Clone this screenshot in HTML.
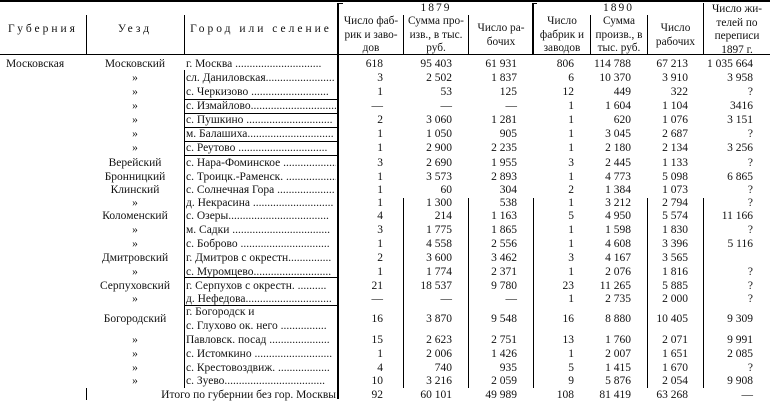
<!DOCTYPE html>
<html><head><meta charset="utf-8"><style>
body{margin:0;width:770px;height:405px;overflow:hidden;background:#fff;font-family:"Liberation Serif",serif;font-size:11.5px;color:#111;position:relative}
.r{position:absolute;left:0;width:770px;height:14px;line-height:14px;white-space:nowrap}
.r span{position:absolute;top:0}
.g{left:6px}
.u{left:86px;width:98px;text-align:center}
.c{left:186px;width:150px;overflow:hidden}
.a{right:387px;text-align:right}
.b{right:318px}
.d{right:253px}
.e{right:196px}
.f{right:139px}
.h{right:82px}
.k{right:17px}
.ln{position:absolute;background:#000}
.hd{position:absolute;text-align:center;font-size:11.3px;line-height:13.5px;white-space:nowrap}
.sp{position:absolute;top:23px;letter-spacing:3px;font-size:11.5px;text-align:center;white-space:nowrap}
</style></head><body>
<div class="ln" style="left:0;top:0;width:770px;height:2px"></div>
<div class="ln" style="left:0;top:54px;width:770px;height:1px"></div>
<div class="ln" style="left:86px;top:15px;width:1px;height:40px"></div>
<div class="ln" style="left:184px;top:15px;width:1px;height:40px"></div>
<div class="ln" style="left:337px;top:3px;width:2px;height:396px"></div>
<div class="ln" style="left:338px;top:3px;width:5px;height:1px"></div>
<div class="ln" style="left:532px;top:3px;width:2px;height:52px"></div>
<div class="ln" style="left:532px;top:3px;width:5px;height:1px"></div>
<div class="ln" style="left:403px;top:15px;width:1px;height:40px"></div>
<div class="ln" style="left:468px;top:15px;width:1px;height:40px"></div>
<div class="ln" style="left:590px;top:15px;width:1px;height:40px"></div>
<div class="ln" style="left:647px;top:15px;width:1px;height:40px"></div>
<div class="ln" style="left:703px;top:3px;width:1px;height:52px"></div>
<div class="ln" style="left:184px;top:70px;width:1px;height:318px"></div>
<div class="ln" style="left:403px;top:198px;width:1px;height:190px"></div>
<div class="ln" style="left:468px;top:198px;width:1px;height:190px"></div>
<div class="ln" style="left:533px;top:198px;width:1px;height:190px"></div>
<div class="ln" style="left:647px;top:198px;width:1px;height:190px"></div>
<div class="ln" style="left:703px;top:198px;width:1px;height:190px"></div>
<div class="ln" style="left:86px;top:388px;width:1px;height:12px"></div>
<div class="ln" style="left:184px;top:99px;width:154px;height:1px"></div>
<div class="ln" style="left:184px;top:113px;width:154px;height:1px"></div>
<div class="ln" style="left:184px;top:127px;width:154px;height:1px"></div>
<div class="ln" style="left:184px;top:141px;width:154px;height:1px"></div>
<div class="ln" style="left:184px;top:155px;width:154px;height:1px"></div>
<div class="ln" style="left:184px;top:277px;width:154px;height:1px"></div>
<div class="ln" style="left:184px;top:305px;width:154px;height:1px"></div>

<div class="sp" style="left:0;width:86px">Губерния</div>
<div class="sp" style="left:86px;width:98px">Уезд</div>
<div class="sp" style="left:184px;width:154px">Город или селение</div>
<div class="hd" style="left:339px;width:194px;top:2px;letter-spacing:2px;font-size:11.5px">1879</div>
<div class="hd" style="left:534px;width:169px;top:2px;letter-spacing:2px;font-size:11.5px">1890</div>
<div class="hd" style="left:339px;width:64px;top:15px">Число фаб-<br>рик и заво-<br>дов</div>
<div class="hd" style="left:404px;width:64px;top:15px">Сумма про-<br>изв., в тыс.<br>руб.</div>
<div class="hd" style="left:469px;width:64px;top:22px">Число ра-<br>бочих</div>
<div class="hd" style="left:534px;width:56px;top:15px">Число<br>фабрик и<br>заводов</div>
<div class="hd" style="left:591px;width:56px;top:15px">Сумма<br>произв., в<br>тыс. руб.</div>
<div class="hd" style="left:648px;width:55px;top:22px">Число<br>рабочих</div>
<div class="hd" style="left:704px;width:66px;top:3px">Число жи-<br>телей по<br>переписи<br>1897 г.</div>

<div class="r" style="top:57px"><span class="g">Московская</span><span class="u">Московский</span><span class="c">г. Москва ..............................</span><span class="a">618</span><span class="b">95 403</span><span class="d">61 931</span><span class="e">806</span><span class="f">114 788</span><span class="h">67 213</span><span class="k">1 035 664</span></div>
<div class="r" style="top:71px"><span class="u">»</span><span class="c">сл. Даниловская........................</span><span class="a">3</span><span class="b">2 502</span><span class="d">1 837</span><span class="e">6</span><span class="f">10 370</span><span class="h">3 910</span><span class="k">3 958</span></div>
<div class="r" style="top:85px"><span class="u">»</span><span class="c">с. Черкизово ...........................</span><span class="a">1</span><span class="b">53</span><span class="d">125</span><span class="e">12</span><span class="f">449</span><span class="h">322</span><span class="k">?</span></div>
<div class="r" style="top:99px"><span class="u">»</span><span class="c">с. Измайлово...............................</span><span class="a">—</span><span class="b">—</span><span class="d">—</span><span class="e">1</span><span class="f">1 604</span><span class="h">1 104</span><span class="k">3416</span></div>
<div class="r" style="top:113px"><span class="u">»</span><span class="c">с. Пушкино ..............................</span><span class="a">2</span><span class="b">3 060</span><span class="d">1 281</span><span class="e">1</span><span class="f">620</span><span class="h">1 076</span><span class="k">3 151</span></div>
<div class="r" style="top:127px"><span class="u">»</span><span class="c">м. Балашиха..............................</span><span class="a">1</span><span class="b">1 050</span><span class="d">905</span><span class="e">1</span><span class="f">3 045</span><span class="h">2 687</span><span class="k">?</span></div>
<div class="r" style="top:141px"><span class="u">»</span><span class="c">с. Реутово ...............................</span><span class="a">1</span><span class="b">2 900</span><span class="d">2 235</span><span class="e">1</span><span class="f">2 180</span><span class="h">2 134</span><span class="k">3 256</span></div>
<div class="r" style="top:156px"><span class="u">Верейский</span><span class="c">с. Нара-Фоминское ...................</span><span class="a">3</span><span class="b">2 690</span><span class="d">1 955</span><span class="e">3</span><span class="f">2 445</span><span class="h">1 133</span><span class="k">?</span></div>
<div class="r" style="top:170px"><span class="u">Бронницкий</span><span class="c">с. Троицк.-Раменск. ..................</span><span class="a">1</span><span class="b">3 573</span><span class="d">2 893</span><span class="e">1</span><span class="f">4 773</span><span class="h">5 098</span><span class="k">6 865</span></div>
<div class="r" style="top:183px"><span class="u">Клинский</span><span class="c">с. Солнечная Гора ....................</span><span class="a">1</span><span class="b">60</span><span class="d">304</span><span class="e">2</span><span class="f">1 384</span><span class="h">1 073</span><span class="k">?</span></div>
<div class="r" style="top:196px"><span class="u">»</span><span class="c">д. Некрасина ............................</span><span class="a">1</span><span class="b">1 300</span><span class="d">538</span><span class="e">1</span><span class="f">3 212</span><span class="h">2 794</span><span class="k">?</span></div>
<div class="r" style="top:209px"><span class="u">Коломенский</span><span class="c">с. Озеры...................................</span><span class="a">4</span><span class="b">214</span><span class="d">1 163</span><span class="e">5</span><span class="f">4 950</span><span class="h">5 574</span><span class="k">11 166</span></div>
<div class="r" style="top:223px"><span class="u">»</span><span class="c">м. Садки ..................................</span><span class="a">3</span><span class="b">1 775</span><span class="d">1 865</span><span class="e">1</span><span class="f">1 598</span><span class="h">1 830</span><span class="k">?</span></div>
<div class="r" style="top:237px"><span class="u">»</span><span class="c">с. Боброво ...............................</span><span class="a">1</span><span class="b">4 558</span><span class="d">2 556</span><span class="e">1</span><span class="f">4 608</span><span class="h">3 396</span><span class="k">5 116</span></div>
<div class="r" style="top:251px"><span class="u">Дмитровский</span><span class="c">г. Дмитров с окрестн...............</span><span class="a">2</span><span class="b">3 600</span><span class="d">3 462</span><span class="e">3</span><span class="f">4 167</span><span class="h">3 565</span></div>
<div class="r" style="top:265px"><span class="u">»</span><span class="c">с. Муромцево...........................</span><span class="a">1</span><span class="b">1 774</span><span class="d">2 371</span><span class="e">1</span><span class="f">2 076</span><span class="h">1 816</span><span class="k">?</span></div>
<div class="r" style="top:279px"><span class="u">Серпуховский</span><span class="c">г. Серпухов с окрестн. ..........</span><span class="a">21</span><span class="b">18 537</span><span class="d">9 780</span><span class="e">23</span><span class="f">11 265</span><span class="h">5 885</span><span class="k">?</span></div>
<div class="r" style="top:292px"><span class="u">»</span><span class="c">д. Нефедова..............................</span><span class="a">—</span><span class="b">—</span><span class="d">—</span><span class="e">1</span><span class="f">2 735</span><span class="h">2 000</span><span class="k">?</span></div>
<div class="r" style="top:305px"><span class="c">г. Богородск и</span></div>
<div class="r" style="top:312px"><span class="u">Богородский</span><span class="a">16</span><span class="b">3 870</span><span class="d">9 548</span><span class="e">16</span><span class="f">8 880</span><span class="h">10 405</span><span class="k">9 309</span></div>
<div class="r" style="top:319px"><span class="c">с. Глухово ок. него ................</span></div>
<div class="r" style="top:333px"><span class="u">»</span><span class="c">Павловск. посад .....................</span><span class="a">15</span><span class="b">2 623</span><span class="d">2 751</span><span class="e">13</span><span class="f">1 760</span><span class="h">2 071</span><span class="k">9 991</span></div>
<div class="r" style="top:347px"><span class="u">»</span><span class="c">с. Истомкино ...........................</span><span class="a">1</span><span class="b">2 006</span><span class="d">1 426</span><span class="e">1</span><span class="f">2 007</span><span class="h">1 651</span><span class="k">2 085</span></div>
<div class="r" style="top:361px"><span class="u">»</span><span class="c">с. Крестовоздвиж. ..................</span><span class="a">4</span><span class="b">740</span><span class="d">935</span><span class="e">5</span><span class="f">1 415</span><span class="h">1 670</span><span class="k">?</span></div>
<div class="r" style="top:374px"><span class="u">»</span><span class="c">с. Зуево...................................</span><span class="a">10</span><span class="b">3 216</span><span class="d">2 059</span><span class="e">9</span><span class="f">5 876</span><span class="h">2 054</span><span class="k">9 908</span></div>
<div class="r" style="top:388px"><span style="right:434px">Итого по губернии без гор. Москвы</span><span class="a">92</span><span class="b">60 101</span><span class="d">49 989</span><span class="e">108</span><span class="f">81 419</span><span class="h">63 268</span><span class="k">—</span></div>
</body></html>
